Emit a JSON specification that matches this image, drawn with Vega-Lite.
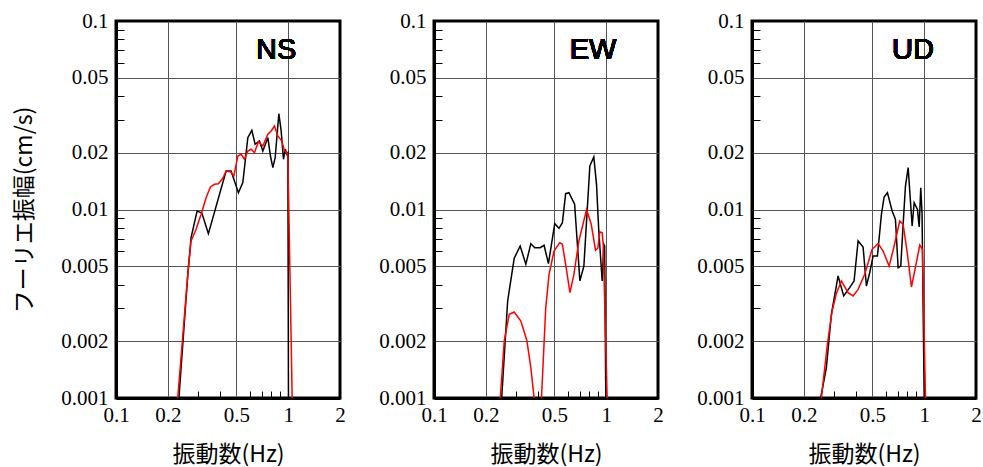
{
  "$schema": "https://vega.github.io/schema/vega-lite/v6.json",
  "padding": {"left": 12, "top": 8, "right": 0, "bottom": 0},
  "background": "white",
  "config": {
    "view": {"stroke": "black", "strokeWidth": 3},
    "axis": {
      "labelFont": "Liberation Serif",
      "labelFontSize": 21,
      "labelColor": "black",
      "titleFont": "Noto Sans CJK JP",
      "titleFontSize": 23,
      "titleFontWeight": "normal",
      "titleColor": "black",
      "gridColor": "#555555",
      "gridWidth": 1,
      "domainColor": "black",
      "domainWidth": 3,
      "tickColor": "black",
      "tickWidth": 1
    }
  },
  "datasets": {
    "d": [
      {"panel": "NS", "series": "k", "seg": 1, "f": 0.232, "amp": 0.001},
      {"panel": "NS", "series": "k", "seg": 1, "f": 0.2612, "amp": 0.00453},
      {"panel": "NS", "series": "k", "seg": 1, "f": 0.2729, "amp": 0.0071},
      {"panel": "NS", "series": "k", "seg": 1, "f": 0.2957, "amp": 0.0098},
      {"panel": "NS", "series": "k", "seg": 1, "f": 0.315, "amp": 0.0096},
      {"panel": "NS", "series": "k", "seg": 1, "f": 0.344, "amp": 0.00744},
      {"panel": "NS", "series": "k", "seg": 1, "f": 0.436, "amp": 0.016},
      {"panel": "NS", "series": "k", "seg": 1, "f": 0.466, "amp": 0.016},
      {"panel": "NS", "series": "k", "seg": 1, "f": 0.514, "amp": 0.01228},
      {"panel": "NS", "series": "k", "seg": 1, "f": 0.5452, "amp": 0.01388},
      {"panel": "NS", "series": "k", "seg": 1, "f": 0.583, "amp": 0.02404},
      {"panel": "NS", "series": "k", "seg": 1, "f": 0.6152, "amp": 0.02633},
      {"panel": "NS", "series": "k", "seg": 1, "f": 0.6428, "amp": 0.02218},
      {"panel": "NS", "series": "k", "seg": 1, "f": 0.6809, "amp": 0.02309},
      {"panel": "NS", "series": "k", "seg": 1, "f": 0.7126, "amp": 0.02044},
      {"panel": "NS", "series": "k", "seg": 1, "f": 0.762, "amp": 0.02404},
      {"panel": "NS", "series": "k", "seg": 1, "f": 0.7891, "amp": 0.01922},
      {"panel": "NS", "series": "k", "seg": 1, "f": 0.815, "amp": 0.01667},
      {"panel": "NS", "series": "k", "seg": 1, "f": 0.8402, "amp": 0.01883},
      {"panel": "NS", "series": "k", "seg": 1, "f": 0.8829, "amp": 0.03222},
      {"panel": "NS", "series": "k", "seg": 1, "f": 0.9105, "amp": 0.0261},
      {"panel": "NS", "series": "k", "seg": 1, "f": 0.9391, "amp": 0.01847},
      {"panel": "NS", "series": "k", "seg": 1, "f": 0.9607, "amp": 0.02087},
      {"panel": "NS", "series": "k", "seg": 1, "f": 0.9826, "amp": 0.01963},
      {"panel": "NS", "series": "k", "seg": 1, "f": 0.996, "amp": 0.02},
      {"panel": "NS", "series": "k", "seg": 1, "f": 1.004, "amp": 0.001},
      {"panel": "NS", "series": "r", "seg": 1, "f": 0.2284, "amp": 0.001},
      {"panel": "NS", "series": "r", "seg": 1, "f": 0.2612, "amp": 0.00453},
      {"panel": "NS", "series": "r", "seg": 1, "f": 0.2729, "amp": 0.0068},
      {"panel": "NS", "series": "r", "seg": 1, "f": 0.2918, "amp": 0.00785},
      {"panel": "NS", "series": "r", "seg": 1, "f": 0.3121, "amp": 0.00943},
      {"panel": "NS", "series": "r", "seg": 1, "f": 0.3337, "amp": 0.01155},
      {"panel": "NS", "series": "r", "seg": 1, "f": 0.3534, "amp": 0.01317},
      {"panel": "NS", "series": "r", "seg": 1, "f": 0.3727, "amp": 0.0136},
      {"panel": "NS", "series": "r", "seg": 1, "f": 0.3933, "amp": 0.0137},
      {"panel": "NS", "series": "r", "seg": 1, "f": 0.4172, "amp": 0.01464},
      {"panel": "NS", "series": "r", "seg": 1, "f": 0.436, "amp": 0.016},
      {"panel": "NS", "series": "r", "seg": 1, "f": 0.4618, "amp": 0.01586},
      {"panel": "NS", "series": "r", "seg": 1, "f": 0.4834, "amp": 0.01505},
      {"panel": "NS", "series": "r", "seg": 1, "f": 0.51, "amp": 0.01922},
      {"panel": "NS", "series": "r", "seg": 1, "f": 0.5329, "amp": 0.01963},
      {"panel": "NS", "series": "r", "seg": 1, "f": 0.557, "amp": 0.01847},
      {"panel": "NS", "series": "r", "seg": 1, "f": 0.583, "amp": 0.02044},
      {"panel": "NS", "series": "r", "seg": 1, "f": 0.6094, "amp": 0.02087},
      {"panel": "NS", "series": "r", "seg": 1, "f": 0.637, "amp": 0.02001},
      {"panel": "NS", "series": "r", "seg": 1, "f": 0.6719, "amp": 0.02289},
      {"panel": "NS", "series": "r", "seg": 1, "f": 0.7126, "amp": 0.02172},
      {"panel": "NS", "series": "r", "seg": 1, "f": 0.762, "amp": 0.02506},
      {"panel": "NS", "series": "r", "seg": 1, "f": 0.7966, "amp": 0.0261},
      {"panel": "NS", "series": "r", "seg": 1, "f": 0.8324, "amp": 0.02773},
      {"panel": "NS", "series": "r", "seg": 1, "f": 0.8711, "amp": 0.02455},
      {"panel": "NS", "series": "r", "seg": 1, "f": 0.9192, "amp": 0.02309},
      {"panel": "NS", "series": "r", "seg": 1, "f": 0.9517, "amp": 0.02044},
      {"panel": "NS", "series": "r", "seg": 1, "f": 0.9826, "amp": 0.02001},
      {"panel": "NS", "series": "r", "seg": 1, "f": 0.996, "amp": 0.01922},
      {"panel": "NS", "series": "r", "seg": 1, "f": 1.055, "amp": 0.001},

      {"panel": "EW", "series": "k", "seg": 1, "f": 0.2472, "amp": 0.001},
      {"panel": "EW", "series": "k", "seg": 1, "f": 0.2678, "amp": 0.00327},
      {"panel": "EW", "series": "k", "seg": 1, "f": 0.2923, "amp": 0.00551},
      {"panel": "EW", "series": "k", "seg": 1, "f": 0.3166, "amp": 0.0064},
      {"panel": "EW", "series": "k", "seg": 1, "f": 0.3416, "amp": 0.00512},
      {"panel": "EW", "series": "k", "seg": 1, "f": 0.3651, "amp": 0.00659},
      {"panel": "EW", "series": "k", "seg": 1, "f": 0.385, "amp": 0.00627},
      {"panel": "EW", "series": "k", "seg": 1, "f": 0.4133, "amp": 0.00627},
      {"panel": "EW", "series": "k", "seg": 1, "f": 0.4358, "amp": 0.00646},
      {"panel": "EW", "series": "k", "seg": 1, "f": 0.462, "amp": 0.00516},
      {"panel": "EW", "series": "k", "seg": 1, "f": 0.5026, "amp": 0.00841},
      {"panel": "EW", "series": "k", "seg": 1, "f": 0.5321, "amp": 0.00795},
      {"panel": "EW", "series": "k", "seg": 1, "f": 0.5567, "amp": 0.00851},
      {"panel": "EW", "series": "k", "seg": 1, "f": 0.5816, "amp": 0.01213},
      {"panel": "EW", "series": "k", "seg": 1, "f": 0.6078, "amp": 0.01228},
      {"panel": "EW", "series": "k", "seg": 1, "f": 0.6558, "amp": 0.01066},
      {"panel": "EW", "series": "k", "seg": 1, "f": 0.7036, "amp": 0.00418},
      {"panel": "EW", "series": "k", "seg": 1, "f": 0.7422, "amp": 0.00501},
      {"panel": "EW", "series": "k", "seg": 1, "f": 0.8039, "amp": 0.01702},
      {"panel": "EW", "series": "k", "seg": 1, "f": 0.8478, "amp": 0.01899},
      {"panel": "EW", "series": "k", "seg": 1, "f": 0.8788, "amp": 0.0136},
      {"panel": "EW", "series": "k", "seg": 1, "f": 0.906, "amp": 0.00769},
      {"panel": "EW", "series": "k", "seg": 1, "f": 0.9482, "amp": 0.00418},
      {"panel": "EW", "series": "k", "seg": 1, "f": 0.9685, "amp": 0.00654},
      {"panel": "EW", "series": "k", "seg": 1, "f": 0.98, "amp": 0.0064},
      {"panel": "EW", "series": "k", "seg": 1, "f": 0.995, "amp": 0.001},
      {"panel": "EW", "series": "r", "seg": 1, "f": 0.2427, "amp": 0.001},
      {"panel": "EW", "series": "r", "seg": 1, "f": 0.2559, "amp": 0.00201},
      {"panel": "EW", "series": "r", "seg": 1, "f": 0.2735, "amp": 0.00278},
      {"panel": "EW", "series": "r", "seg": 1, "f": 0.2923, "amp": 0.00286},
      {"panel": "EW", "series": "r", "seg": 1, "f": 0.3195, "amp": 0.00256},
      {"panel": "EW", "series": "r", "seg": 1, "f": 0.3462, "amp": 0.00202},
      {"panel": "EW", "series": "r", "seg": 1, "f": 0.3651, "amp": 0.00145},
      {"panel": "EW", "series": "r", "seg": 1, "f": 0.3815, "amp": 0.001},
      {"panel": "EW", "series": "r", "seg": 2, "f": 0.421, "amp": 0.001},
      {"panel": "EW", "series": "r", "seg": 2, "f": 0.4457, "amp": 0.00301},
      {"panel": "EW", "series": "r", "seg": 2, "f": 0.4658, "amp": 0.00453},
      {"panel": "EW", "series": "r", "seg": 2, "f": 0.4979, "amp": 0.00602},
      {"panel": "EW", "series": "r", "seg": 2, "f": 0.5372, "amp": 0.00667},
      {"panel": "EW", "series": "r", "seg": 2, "f": 0.5567, "amp": 0.00654},
      {"panel": "EW", "series": "r", "seg": 2, "f": 0.5816, "amp": 0.00512},
      {"panel": "EW", "series": "r", "seg": 2, "f": 0.616, "amp": 0.00362},
      {"panel": "EW", "series": "r", "seg": 2, "f": 0.6496, "amp": 0.00453},
      {"panel": "EW", "series": "r", "seg": 2, "f": 0.6943, "amp": 0.00681},
      {"panel": "EW", "series": "r", "seg": 2, "f": 0.7693, "amp": 0.01},
      {"panel": "EW", "series": "r", "seg": 2, "f": 0.819, "amp": 0.00835},
      {"panel": "EW", "series": "r", "seg": 2, "f": 0.8673, "amp": 0.00608},
      {"panel": "EW", "series": "r", "seg": 2, "f": 0.8941, "amp": 0.00623},
      {"panel": "EW", "series": "r", "seg": 2, "f": 0.9183, "amp": 0.00762},
      {"panel": "EW", "series": "r", "seg": 2, "f": 0.9482, "amp": 0.00753},
      {"panel": "EW", "series": "r", "seg": 2, "f": 0.962, "amp": 0.0064},
      {"panel": "EW", "series": "r", "seg": 2, "f": 1.013, "amp": 0.001},

      {"panel": "UD", "series": "k", "seg": 1, "f": 0.2505, "amp": 0.001},
      {"panel": "UD", "series": "k", "seg": 1, "f": 0.2704, "amp": 0.00145},
      {"panel": "UD", "series": "k", "seg": 1, "f": 0.2891, "amp": 0.00278},
      {"panel": "UD", "series": "k", "seg": 1, "f": 0.3162, "amp": 0.00444},
      {"panel": "UD", "series": "k", "seg": 1, "f": 0.3408, "amp": 0.00348},
      {"panel": "UD", "series": "k", "seg": 1, "f": 0.3692, "amp": 0.00385},
      {"panel": "UD", "series": "k", "seg": 1, "f": 0.3917, "amp": 0.00418},
      {"panel": "UD", "series": "k", "seg": 1, "f": 0.4134, "amp": 0.00681},
      {"panel": "UD", "series": "k", "seg": 1, "f": 0.4418, "amp": 0.00633},
      {"panel": "UD", "series": "k", "seg": 1, "f": 0.4618, "amp": 0.00393},
      {"panel": "UD", "series": "k", "seg": 1, "f": 0.4827, "amp": 0.00462},
      {"panel": "UD", "series": "k", "seg": 1, "f": 0.5052, "amp": 0.00567},
      {"panel": "UD", "series": "k", "seg": 1, "f": 0.5352, "amp": 0.00567},
      {"panel": "UD", "series": "k", "seg": 1, "f": 0.5645, "amp": 0.00943},
      {"panel": "UD", "series": "k", "seg": 1, "f": 0.5853, "amp": 0.01165},
      {"panel": "UD", "series": "k", "seg": 1, "f": 0.6117, "amp": 0.01228},
      {"panel": "UD", "series": "k", "seg": 1, "f": 0.6516, "amp": 0.00982},
      {"panel": "UD", "series": "k", "seg": 1, "f": 0.6809, "amp": 0.00887},
      {"panel": "UD", "series": "k", "seg": 1, "f": 0.706, "amp": 0.00491},
      {"panel": "UD", "series": "k", "seg": 1, "f": 0.7311, "amp": 0.00501},
      {"panel": "UD", "series": "k", "seg": 1, "f": 0.7549, "amp": 0.00835},
      {"panel": "UD", "series": "k", "seg": 1, "f": 0.7786, "amp": 0.01332},
      {"panel": "UD", "series": "k", "seg": 1, "f": 0.8072, "amp": 0.01667},
      {"panel": "UD", "series": "k", "seg": 1, "f": 0.8514, "amp": 0.00818},
      {"panel": "UD", "series": "k", "seg": 1, "f": 0.8746, "amp": 0.01087},
      {"panel": "UD", "series": "k", "seg": 1, "f": 0.9142, "amp": 0.01},
      {"panel": "UD", "series": "k", "seg": 1, "f": 0.9353, "amp": 0.00808},
      {"panel": "UD", "series": "k", "seg": 1, "f": 0.9555, "amp": 0.01305},
      {"panel": "UD", "series": "k", "seg": 1, "f": 0.972, "amp": 0.0095},
      {"panel": "UD", "series": "k", "seg": 1, "f": 1.0, "amp": 0.001},
      {"panel": "UD", "series": "r", "seg": 1, "f": 0.2529, "amp": 0.001},
      {"panel": "UD", "series": "r", "seg": 1, "f": 0.2741, "amp": 0.00193},
      {"panel": "UD", "series": "r", "seg": 1, "f": 0.2918, "amp": 0.00289},
      {"panel": "UD", "series": "r", "seg": 1, "f": 0.3091, "amp": 0.00358},
      {"panel": "UD", "series": "r", "seg": 1, "f": 0.3306, "amp": 0.00418},
      {"panel": "UD", "series": "r", "seg": 1, "f": 0.3614, "amp": 0.00362},
      {"panel": "UD", "series": "r", "seg": 1, "f": 0.3866, "amp": 0.00348},
      {"panel": "UD", "series": "r", "seg": 1, "f": 0.4134, "amp": 0.00377},
      {"panel": "UD", "series": "r", "seg": 1, "f": 0.4515, "amp": 0.00453},
      {"panel": "UD", "series": "r", "seg": 1, "f": 0.4985, "amp": 0.00615},
      {"panel": "UD", "series": "r", "seg": 1, "f": 0.5402, "amp": 0.00659},
      {"panel": "UD", "series": "r", "seg": 1, "f": 0.5775, "amp": 0.00602},
      {"panel": "UD", "series": "r", "seg": 1, "f": 0.6258, "amp": 0.00501},
      {"panel": "UD", "series": "r", "seg": 1, "f": 0.6656, "amp": 0.00627},
      {"panel": "UD", "series": "r", "seg": 1, "f": 0.7213, "amp": 0.00869},
      {"panel": "UD", "series": "r", "seg": 1, "f": 0.7549, "amp": 0.00835},
      {"panel": "UD", "series": "r", "seg": 1, "f": 0.7997, "amp": 0.00578},
      {"panel": "UD", "series": "r", "seg": 1, "f": 0.8436, "amp": 0.00388},
      {"panel": "UD", "series": "r", "seg": 1, "f": 0.8815, "amp": 0.00472},
      {"panel": "UD", "series": "r", "seg": 1, "f": 0.9429, "amp": 0.00648},
      {"panel": "UD", "series": "r", "seg": 1, "f": 0.9775, "amp": 0.00615},
      {"panel": "UD", "series": "r", "seg": 1, "f": 1.0176, "amp": 0.001}
    ]
  },
  "hconcat": [
    {
      "width": 224, "height": 377,
      "data": {"name": "d"},
      "transform": [{"filter": "datum.panel === 'NS'"}],
      "layer": [
        {
          "mark": {"type": "line", "strokeWidth": 1.5, "clip": true},
          "encoding": {
            "x": {"field": "f", "type": "quantitative",
              "scale": {"type": "log", "domain": [0.1, 2], "nice": false},
              "axis": {
                "title": "振動数(Hz)",
                "values": [0.1,0.2,0.3,0.4,0.5,0.6,0.7,0.8,0.9,1,2],
                "labelExpr": "indexof([0.1,0.2,0.5,1,2], datum.value) >= 0 ? datum.label : ''",
                "format": "~g",
                "labelPadding": 13,
                "labelFlush": false,
                "labelOverlap": false,
                "tickSize": -7,
                "tickOpacity": {"condition": {"test": "indexof([0.3,0.4,0.6,0.7,0.8,0.9], datum.value) >= 0", "value": 1}, "value": 0},
                "gridOpacity": {"condition": {"test": "indexof([0.2,0.5,1], datum.value) >= 0", "value": 1}, "value": 0},
                "titlePadding": 18
              }
            },
            "y": {"field": "amp", "type": "quantitative",
              "scale": {"type": "log", "domain": [0.001, 0.1], "nice": false},
              "axis": {
                "title": "フーリエ振幅(cm/s)",
                "values": [0.001,0.002,0.003,0.004,0.005,0.006,0.007,0.008,0.009,0.01,0.02,0.03,0.04,0.05,0.06,0.07,0.08,0.09,0.1],
                "labelExpr": "indexof([0.001,0.002,0.005,0.01,0.02,0.05,0.1], datum.value) >= 0 ? datum.label : ''",
                "format": "~g",
                "labelPadding": 16,
                "labelFlush": false,
                "labelOverlap": false,
                "tickSize": -8,
                "tickOpacity": {"condition": {"test": "indexof([0.003,0.004,0.006,0.007,0.008,0.009,0.03,0.04,0.06,0.07,0.08,0.09], datum.value) >= 0", "value": 1}, "value": 0},
                "gridOpacity": {"condition": {"test": "indexof([0.002,0.005,0.01,0.02,0.05], datum.value) >= 0", "value": 1}, "value": 0},
                "titlePadding": 24
              }
            },
            "color": {"field": "series", "type": "nominal",
              "scale": {"domain": ["k", "r"], "range": ["#000000", "#ff0000"]}, "legend": null},
            "detail": {"field": "seg", "type": "nominal"}
          }
        },
        {
          "mark": {"type": "text", "font": "Liberation Sans", "fontSize": 29, "fontWeight": "normal", "align": "center", "baseline": "middle", "color": "black"},
          "encoding": {
            "x": {"datum": 0.851, "type": "quantitative"},
            "y": {"datum": 0.0703, "type": "quantitative"},
            "text": {"value": "NS"}
          }
        }
      ]
    },
    {
      "width": 224, "height": 377,
      "data": {"name": "d"},
      "transform": [{"filter": "datum.panel === 'EW'"}],
      "layer": [
        {
          "mark": {"type": "line", "strokeWidth": 1.5, "clip": true},
          "encoding": {
            "x": {"field": "f", "type": "quantitative",
              "scale": {"type": "log", "domain": [0.1, 2], "nice": false},
              "axis": {
                "title": "振動数(Hz)",
                "values": [0.1,0.2,0.3,0.4,0.5,0.6,0.7,0.8,0.9,1,2],
                "labelExpr": "indexof([0.1,0.2,0.5,1,2], datum.value) >= 0 ? datum.label : ''",
                "format": "~g",
                "labelPadding": 13,
                "labelFlush": false,
                "labelOverlap": false,
                "tickSize": -7,
                "tickOpacity": {"condition": {"test": "indexof([0.3,0.4,0.6,0.7,0.8,0.9], datum.value) >= 0", "value": 1}, "value": 0},
                "gridOpacity": {"condition": {"test": "indexof([0.2,0.5,1], datum.value) >= 0", "value": 1}, "value": 0},
                "titlePadding": 18
              }
            },
            "y": {"field": "amp", "type": "quantitative",
              "scale": {"type": "log", "domain": [0.001, 0.1], "nice": false},
              "axis": {
                "title": null,
                "values": [0.001,0.002,0.003,0.004,0.005,0.006,0.007,0.008,0.009,0.01,0.02,0.03,0.04,0.05,0.06,0.07,0.08,0.09,0.1],
                "labelExpr": "indexof([0.001,0.002,0.005,0.01,0.02,0.05,0.1], datum.value) >= 0 ? datum.label : ''",
                "format": "~g",
                "labelPadding": 16,
                "labelFlush": false,
                "labelOverlap": false,
                "tickSize": -8,
                "tickOpacity": {"condition": {"test": "indexof([0.003,0.004,0.006,0.007,0.008,0.009,0.03,0.04,0.06,0.07,0.08,0.09], datum.value) >= 0", "value": 1}, "value": 0},
                "gridOpacity": {"condition": {"test": "indexof([0.002,0.005,0.01,0.02,0.05], datum.value) >= 0", "value": 1}, "value": 0}
              }
            },
            "color": {"field": "series", "type": "nominal",
              "scale": {"domain": ["k", "r"], "range": ["#000000", "#ff0000"]}, "legend": null},
            "detail": {"field": "seg", "type": "nominal"}
          }
        },
        {
          "mark": {"type": "text", "font": "Liberation Sans", "fontSize": 29, "fontWeight": "normal", "align": "center", "baseline": "middle", "color": "black"},
          "encoding": {
            "x": {"datum": 0.839, "type": "quantitative"},
            "y": {"datum": 0.0703, "type": "quantitative"},
            "text": {"value": "EW"}
          }
        }
      ]
    },
    {
      "width": 224, "height": 377,
      "data": {"name": "d"},
      "transform": [{"filter": "datum.panel === 'UD'"}],
      "layer": [
        {
          "mark": {"type": "line", "strokeWidth": 1.5, "clip": true},
          "encoding": {
            "x": {"field": "f", "type": "quantitative",
              "scale": {"type": "log", "domain": [0.1, 2], "nice": false},
              "axis": {
                "title": "振動数(Hz)",
                "values": [0.1,0.2,0.3,0.4,0.5,0.6,0.7,0.8,0.9,1,2],
                "labelExpr": "indexof([0.1,0.2,0.5,1,2], datum.value) >= 0 ? datum.label : ''",
                "format": "~g",
                "labelPadding": 13,
                "labelFlush": false,
                "labelOverlap": false,
                "tickSize": -7,
                "tickOpacity": {"condition": {"test": "indexof([0.3,0.4,0.6,0.7,0.8,0.9], datum.value) >= 0", "value": 1}, "value": 0},
                "gridOpacity": {"condition": {"test": "indexof([0.2,0.5,1], datum.value) >= 0", "value": 1}, "value": 0},
                "titlePadding": 18
              }
            },
            "y": {"field": "amp", "type": "quantitative",
              "scale": {"type": "log", "domain": [0.001, 0.1], "nice": false},
              "axis": {
                "title": null,
                "values": [0.001,0.002,0.003,0.004,0.005,0.006,0.007,0.008,0.009,0.01,0.02,0.03,0.04,0.05,0.06,0.07,0.08,0.09,0.1],
                "labelExpr": "indexof([0.001,0.002,0.005,0.01,0.02,0.05,0.1], datum.value) >= 0 ? datum.label : ''",
                "format": "~g",
                "labelPadding": 16,
                "labelFlush": false,
                "labelOverlap": false,
                "tickSize": -8,
                "tickOpacity": {"condition": {"test": "indexof([0.003,0.004,0.006,0.007,0.008,0.009,0.03,0.04,0.06,0.07,0.08,0.09], datum.value) >= 0", "value": 1}, "value": 0},
                "gridOpacity": {"condition": {"test": "indexof([0.002,0.005,0.01,0.02,0.05], datum.value) >= 0", "value": 1}, "value": 0}
              }
            },
            "color": {"field": "series", "type": "nominal",
              "scale": {"domain": ["k", "r"], "range": ["#000000", "#ff0000"]}, "legend": null},
            "detail": {"field": "seg", "type": "nominal"}
          }
        },
        {
          "mark": {"type": "text", "font": "Liberation Sans", "fontSize": 29, "fontWeight": "normal", "align": "center", "baseline": "middle", "color": "black"},
          "encoding": {
            "x": {"datum": 0.861, "type": "quantitative"},
            "y": {"datum": 0.0703, "type": "quantitative"},
            "text": {"value": "UD"}
          }
        }
      ]
    }
  ],
  "spacing": 94,
  "bounds": "flush"
}
